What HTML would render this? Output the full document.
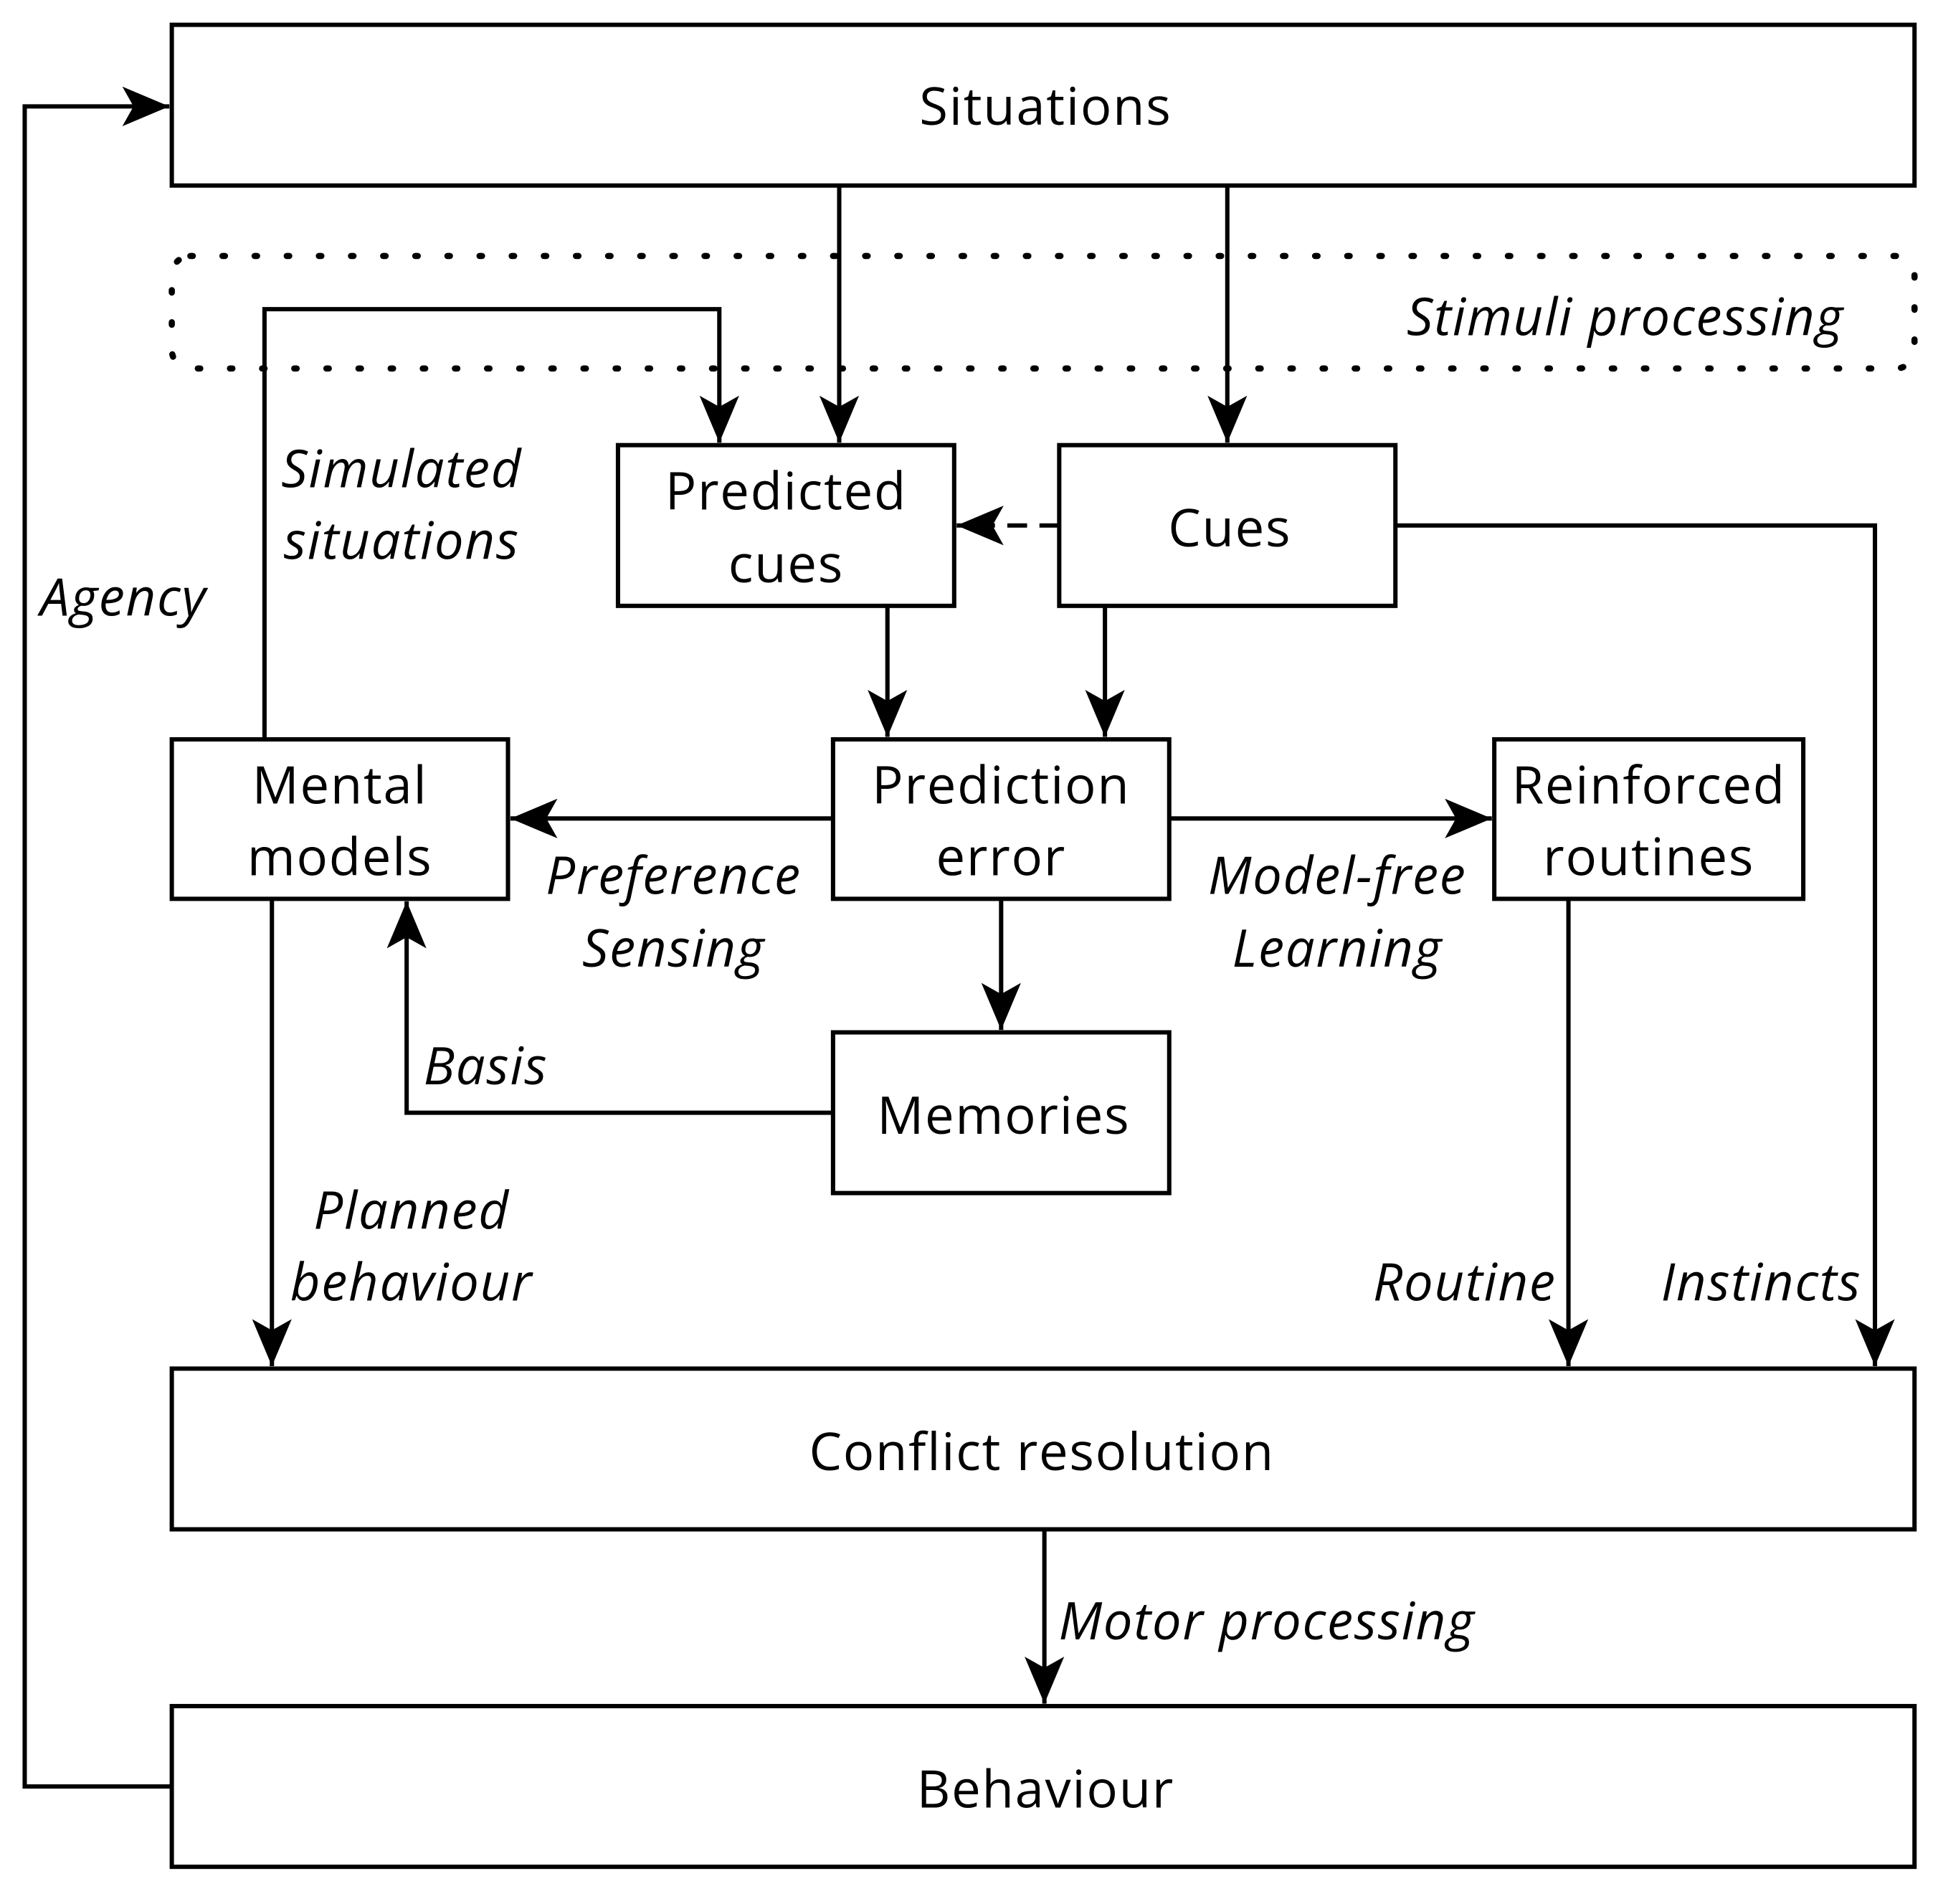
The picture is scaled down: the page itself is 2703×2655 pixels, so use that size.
<!DOCTYPE html>
<html><head><meta charset="utf-8"><style>
html,body{margin:0;padding:0;background:#fff}
svg{display:block}
text{font-family:"Open Sans","Liberation Sans",sans-serif;font-size:42px;letter-spacing:1px;fill:#000;text-anchor:middle}
.i{font-style:italic}
</style></head><body>
<svg width="2703" height="2655" viewBox="0 0 1568 1540" xmlns="http://www.w3.org/2000/svg">
<defs>
<marker id="a" markerUnits="userSpaceOnUse" markerWidth="40" markerHeight="40" viewBox="0 0 40 40" refX="38" refY="20" orient="auto">
<path d="M0,4 L38,20 L0,36 L9,20 Z" fill="#000"/>
</marker>
</defs>
<g fill="none" stroke="#000" stroke-width="3.5">
<rect x="139" y="20" width="1410" height="130" fill="#fff"/>
<rect x="139" y="207" width="1410" height="91" rx="15" stroke-dasharray="2,24" stroke-linecap="round" stroke-width="5"/>
<rect x="500" y="360" width="272" height="130"/>
<rect x="857" y="360" width="272" height="130"/>
<rect x="139" y="598" width="272" height="129"/>
<rect x="674" y="598" width="272" height="129"/>
<rect x="1209" y="598" width="250" height="129"/>
<rect x="674" y="835" width="272" height="130"/>
<rect x="139" y="1107" width="1410" height="130"/>
<rect x="139" y="1380" width="1410" height="130"/>
<path d="M679,150 V358" marker-end="url(#a)"/>
<path d="M993,150 V358" marker-end="url(#a)"/>
<path d="M214,598 V250 H582 V358" marker-end="url(#a)"/>
<path d="M857,425 H774" stroke-dasharray="16,10" marker-end="url(#a)"/>
<path d="M1129,425 H1517 V1105" marker-end="url(#a)"/>
<path d="M718,490 V596" marker-end="url(#a)"/>
<path d="M894,490 V596" marker-end="url(#a)"/>
<path d="M674,662 H413" marker-end="url(#a)"/>
<path d="M946,662 H1207" marker-end="url(#a)"/>
<path d="M810,727 V833" marker-end="url(#a)"/>
<path d="M674,900 H329 V729" marker-end="url(#a)"/>
<path d="M220,727 V1105" marker-end="url(#a)"/>
<path d="M1269,727 V1105" marker-end="url(#a)"/>
<path d="M845,1237 V1378" marker-end="url(#a)"/>
<path d="M139,1445 H20 V86 H137" marker-end="url(#a)"/>
</g>
<text x="846" y="101">Situations</text>
<text class="i" x="1315" y="271">Stimuli processing</text>
<text x="636" y="412">Predicted</text>
<text x="636" y="471">cues</text>
<text x="995" y="442">Cues</text>
<text x="275" y="650">Mental</text>
<text x="275" y="708">models</text>
<text x="810" y="650">Prediction</text>
<text x="810" y="708">error</text>
<text x="1334" y="650">Reinforced</text>
<text x="1334" y="708">routines</text>
<text x="812" y="917">Memories</text>
<text x="843" y="1189">Conflict resolution</text>
<text x="846" y="1462">Behaviour</text>
<text class="i" x="325" y="394">Simulated</text>
<text class="i" x="325" y="452">situations</text>
<text class="i" x="100" y="498">Agency</text>
<text class="i" x="545" y="723">Preference</text>
<text class="i" x="545" y="782">Sensing</text>
<text class="i" x="1082" y="723">Model-free</text>
<text class="i" x="1082" y="782">Learning</text>
<text class="i" x="393" y="877">Basis</text>
<text class="i" x="333" y="994">Planned</text>
<text class="i" x="333" y="1052">behaviour</text>
<text class="i" x="1185" y="1052">Routine</text>
<text class="i" x="1425" y="1052">Instincts</text>
<text class="i" x="1025" y="1326">Motor processing</text>
</svg>
</body></html>
